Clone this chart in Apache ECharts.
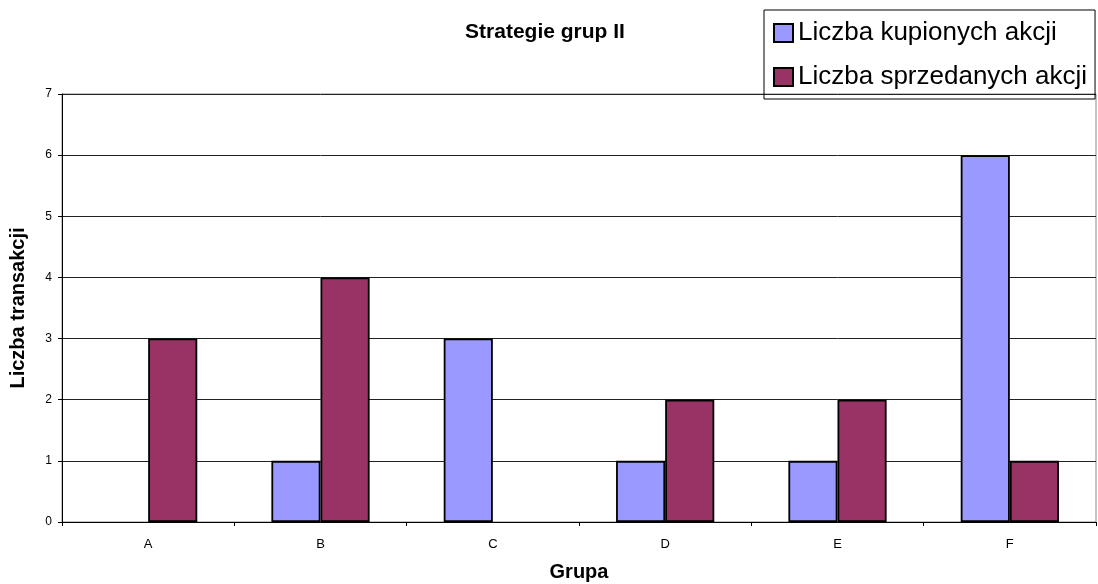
<!DOCTYPE html>
<html><head><meta charset="utf-8">
<script src="https://cdn.jsdelivr.net/npm/echarts@6/dist/echarts.min.js"></script>
<style>html,body{margin:0;padding:0;background:#fff}#c{width:1098px;height:584px}</style>
</head><body><div id="c"></div>
<script>
const categories = ['A','B','C','D','E','F'];
const bought = [0,1,3,1,1,6];
const sold = [3,4,0,2,2,1];
const seriesNames = ['Liczba kupionych akcji','Liczba sprzedanych akcji'];
const FONT = '"Liberation Sans", Arial, sans-serif';
const hideZero = arr => arr.map(v => v === 0 ? '-' : v);
const chart = echarts.init(document.getElementById('c'));
chart.setOption({
  animation:false,
  backgroundColor:'#fff',
  title:{text:'Strategie grup II',left:540,top:17,textAlign:'center',
    textStyle:{fontFamily:FONT,fontSize:21,fontWeight:'bold',color:'#000'}},
  legend:{orient:'vertical',left:764,top:10,itemWidth:19,itemHeight:18,itemGap:18,
    padding:[10,8,9,9],borderColor:'#000',borderWidth:1,icon:'rect',
    textStyle:{fontFamily:FONT,fontSize:26,color:'#000'},
    data:seriesNames},
  grid:{left:62,right:2,top:94,bottom:62,show:true,borderColor:'#888',borderWidth:1,
    outerBoundsMode:'none',containLabel:false},
  xAxis:{type:'category',data:categories,name:'Grupa',nameLocation:'middle',nameGap:40,
    nameTextStyle:{fontFamily:FONT,fontSize:20,fontWeight:'bold',color:'#000'},
    axisLine:{lineStyle:{color:'#000',width:1}},
    axisTick:{show:true,length:4,lineStyle:{color:'#000'}},
    axisLabel:{fontFamily:FONT,fontSize:13,color:'#000',margin:16}},
  yAxis:{type:'value',min:0,max:7,interval:1,name:'Liczba transakcji',nameLocation:'middle',nameGap:34,
    nameTextStyle:{fontFamily:FONT,fontSize:20,fontWeight:'bold',color:'#000'},
    axisLine:{show:true,lineStyle:{color:'#000',width:1}},
    axisTick:{show:true,length:4,lineStyle:{color:'#000'}},
    axisLabel:{fontFamily:FONT,fontSize:12,color:'#000',margin:10},
    splitLine:{lineStyle:{color:'#222',width:1}}},
  series:[
    {name:seriesNames[0],type:'bar',data:hideZero(bought),barGap:'0%',barCategoryGap:'43%',
     itemStyle:{color:'#9999FF',borderColor:'#000',borderWidth:1.8}},
    {name:seriesNames[1],type:'bar',data:hideZero(sold),barGap:'0%',barCategoryGap:'43%',
     itemStyle:{color:'#993366',borderColor:'#000',borderWidth:1.8}}
  ]
});
</script></body></html>
